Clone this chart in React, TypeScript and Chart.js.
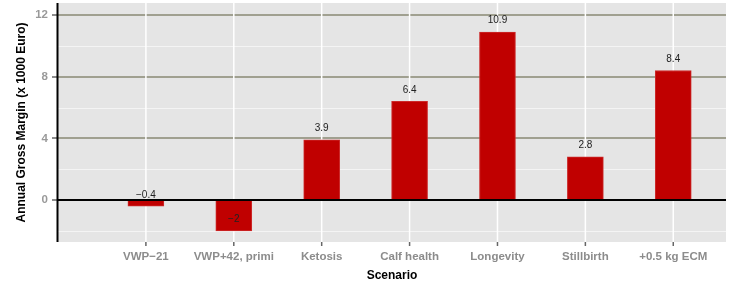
import React, { useEffect, useRef } from 'react';
import { Chart, registerables } from 'chart.js';
Chart.register(...registerables);

const categories = ['VWP−21', 'VWP+42, primi', 'Ketosis', 'Calf health', 'Longevity', 'Stillbirth', '+0.5 kg ECM'];
const values = [-0.4, -2, 3.9, 6.4, 10.9, 2.8, 8.4];
const valueLabels = ['−0.4', '−2', '3.9', '6.4', '10.9', '2.8', '8.4'];
const yMajorTicks = [0, 4, 8, 12];
const yMinorTicks = [-2, 2, 6, 10];
const yTitle = 'Annual Gross Margin (x 1000 Euro)';
const xTitle = 'Scenario';

const FONT = '"Liberation Sans", Arial, sans-serif';

const panelPlugin = {
  id: 'panel',
  beforeDatasetsDraw(chart: any) {
    const { ctx, chartArea } = chart;
    const { left, right, top, bottom } = chartArea;
    const xs = chart.scales.x;
    const ys = chart.scales.y;
    ctx.save();
    ctx.fillStyle = '#e5e5e5';
    ctx.fillRect(left, top, right - left, bottom - top);
    ctx.strokeStyle = '#f4f4f4';
    ctx.lineWidth = 1;
    yMinorTicks.forEach((v) => {
      const y = Math.round(ys.getPixelForValue(v)) + 0.5;
      ctx.beginPath();
      ctx.moveTo(left, y);
      ctx.lineTo(right, y);
      ctx.stroke();
    });
    ctx.strokeStyle = '#a0a090';
    ctx.lineWidth = 2;
    yMajorTicks.forEach((v) => {
      if (v === 0) return;
      const y = Math.round(ys.getPixelForValue(v));
      ctx.beginPath();
      ctx.moveTo(left, y);
      ctx.lineTo(right, y);
      ctx.stroke();
    });
    ctx.strokeStyle = '#ffffff';
    ctx.lineWidth = 1.5;
    categories.forEach((_, i) => {
      const x = xs.getPixelForValue(i + 1);
      ctx.beginPath();
      ctx.moveTo(x, top);
      ctx.lineTo(x, bottom);
      ctx.stroke();
    });
    ctx.strokeStyle = '#666666';
    ctx.lineWidth = 1.5;
    categories.forEach((_, i) => {
      const x = xs.getPixelForValue(i + 1);
      ctx.beginPath();
      ctx.moveTo(x, bottom);
      ctx.lineTo(x, bottom + 4);
      ctx.stroke();
    });
    yMajorTicks.forEach((v) => {
      const y = Math.round(ys.getPixelForValue(v));
      ctx.beginPath();
      ctx.moveTo(left - 6, y);
      ctx.lineTo(left, y);
      ctx.stroke();
    });
    ctx.restore();
  },
  afterDatasetsDraw(chart: any) {
    const { ctx, chartArea } = chart;
    const { left, right, top, bottom } = chartArea;
    const xs = chart.scales.x;
    const ys = chart.scales.y;
    ctx.save();
    ctx.strokeStyle = '#000000';
    ctx.lineWidth = 2;
    const y0 = Math.round(ys.getPixelForValue(0));
    ctx.beginPath();
    ctx.moveTo(left, y0);
    ctx.lineTo(right, y0);
    ctx.stroke();
    ctx.beginPath();
    ctx.moveTo(left - 0.5, top);
    ctx.lineTo(left - 0.5, bottom);
    ctx.stroke();
    ctx.fillStyle = '#222222';
    ctx.font = `10px ${FONT}`;
    ctx.textAlign = 'center';
    ctx.textBaseline = 'middle';
    values.forEach((v, i) => {
      const x = xs.getPixelForValue(i + 1);
      const y = ys.getPixelForValue(v + 0.74);
      ctx.fillText(valueLabels[i], x, y);
    });
    ctx.fillStyle = '#000000';
    ctx.font = `bold 12px ${FONT}`;
    ctx.fillText(xTitle, (left + right) / 2, 276);
    ctx.translate(22, (top + bottom) / 2);
    ctx.rotate(-Math.PI / 2);
    ctx.fillText(yTitle, 0, 0);
    ctx.restore();
  },
};

export default function App() {
  const ref = useRef<HTMLCanvasElement>(null);
  useEffect(() => {
    if (!ref.current) return;
    const chart = new Chart(ref.current, {
      type: 'bar',
      data: {
        datasets: [
          {
            data: values.map((v, i) => ({ x: i + 1, y: v })),
            backgroundColor: '#c00000',
            borderColor: '#cc2a2a',
            borderWidth: 1,
            barThickness: 36,
          },
        ],
      },
      plugins: [panelPlugin],
      options: {
        animation: false,
        responsive: false,
        maintainAspectRatio: false,
        layout: { padding: { top: 3, right: 6, left: 0, bottom: 0 } },
        plugins: { legend: { display: false }, tooltip: { enabled: false } },
        scales: {
          x: {
            type: 'linear',
            min: 0,
            max: 7.6,
            offset: false,
            grid: { display: false, drawTicks: false, offset: false },
            border: { display: false },
            afterBuildTicks: (s: any) => {
              s.ticks = categories.map((_, i) => ({ value: i + 1 }));
            },
            afterFit: (s: any) => {
              s.height = 40;
              s.paddingLeft = 0;
              s.paddingRight = 0;
            },
            ticks: {
              padding: 8,
              color: '#8c8c8c',
              font: { family: FONT, size: 11.5, weight: 'bold' },
              maxRotation: 0,
              autoSkip: false,
              callback: (v: any) => categories[Math.round(v) - 1] ?? '',
            },
          },
          y: {
            type: 'linear',
            min: -2.72,
            max: 12.78,
            grid: { display: false, drawTicks: false },
            border: { display: false },
            afterBuildTicks: (s: any) => {
              s.ticks = yMajorTicks.map((v) => ({ value: v }));
            },
            afterFit: (s: any) => {
              s.width = 58;
              s.paddingTop = 0;
              s.paddingBottom = 0;
            },
            ticks: {
              padding: 10,
              color: '#999999',
              font: { family: FONT, size: 11.5, weight: 'bold' },
              callback: (v: any) => String(v),
            },
          },
        },
      },
    });
    return () => chart.destroy();
  }, []);
  return (
    <div style={{ position: 'fixed', left: 0, top: 0, width: 732, height: 282, background: '#fff' }}>
      <canvas ref={ref} width={732} height={282} style={{ width: 732, height: 282 }} />
    </div>
  );
}
